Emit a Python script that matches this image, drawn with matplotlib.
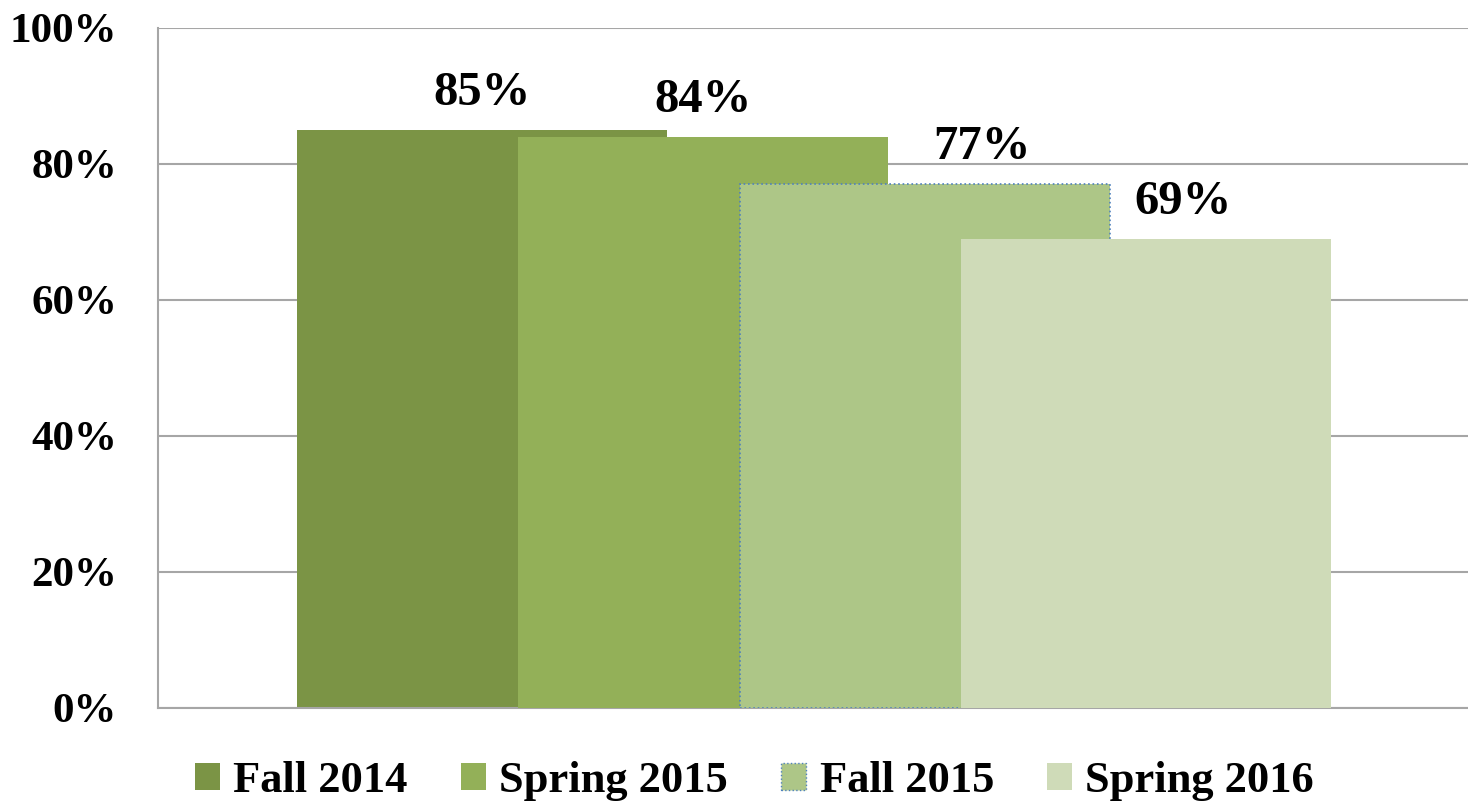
import matplotlib.pyplot as plt
from matplotlib.patches import Patch
from matplotlib.ticker import PercentFormatter

terms = ['Fall 2014', 'Spring 2015', 'Fall 2015', 'Spring 2016']
values = [85, 84, 77, 69]
colors = ['#7B9445', '#93B058', '#ADC687', '#CFDBB8']
label_shift = [0, 0, 0.26, 0.17]

plt.rcParams['font.family'] = ['Liberation Serif', 'DejaVu Serif']
plt.rcParams['font.weight'] = 'bold'

fig = plt.figure(figsize=(14.68, 8.08), dpi=100)
ax = fig.add_axes([158 / 1468, 100 / 808, 1310 / 1468, 680 / 808])

x = range(len(terms))
for i in x:
    edge = '#4F81BD' if i == 2 else 'none'
    ax.bar(i, values[i], width=1.674, color=colors[i], edgecolor=edge,
           linestyle=':', linewidth=1.2, zorder=2 + i)
    ax.text(i + label_shift[i], values[i] + 3.7, f'{values[i]}%', ha='center',
            va='baseline', fontsize=35, fontweight='bold', zorder=10)

ax.set_xlim(-1.468, 4.459)
ax.set_ylim(0, 100)
ax.set_yticks(range(0, 101, 20))
ax.yaxis.set_major_formatter(PercentFormatter(decimals=0))
ax.tick_params(axis='y', labelsize=31, length=0, pad=29.5)
ax.set_xticks([])
for lab in ax.get_yticklabels():
    lab.set_fontweight('bold')
ax.grid(axis='y', color='#A6A6A6', linewidth=1.5, zorder=0)
ax.set_axisbelow(True)
for s in ['top', 'right']:
    ax.spines[s].set_visible(False)
for s in ['left', 'bottom']:
    ax.spines[s].set_color('#A6A6A6')
    ax.spines[s].set_linewidth(1.5)

handles = [Patch(facecolor=c, edgecolor='#4F81BD' if i == 2 else 'none',
                 linestyle=':', label=t) for i, (t, c) in enumerate(zip(terms, colors))]
fig.legend(handles=handles, loc='center', bbox_to_anchor=(0.514, 0.033), ncol=4,
           frameon=False, prop={'size': 32, 'weight': 'bold'},
           handlelength=0.56, handleheight=0.56, handletextpad=0.3, columnspacing=1.2)

fig.savefig('out.png', dpi=100)
